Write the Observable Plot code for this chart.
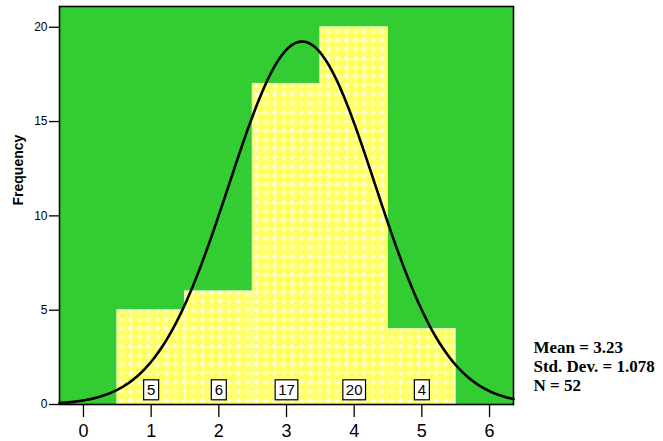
<!DOCTYPE html>
<html>
<head>
<meta charset="utf-8">
<script src="https://cdn.jsdelivr.net/npm/d3@7"></script>
<script src="https://cdn.jsdelivr.net/npm/@observablehq/plot@0.6"></script>
<style>
  html, body { margin: 0; padding: 0; background: #fff; }
  svg { display: block; }
</style>
</head>
<body>
<div id="chart"></div>
<script>
// Histogram bins (bin centers) and counts
const binCenters = [1, 2, 3, 4, 5];
const counts = [5, 6, 17, 20, 4];
const xTicks = [0, 1, 2, 3, 4, 5, 6];
const yTicks = [0, 5, 10, 15, 20];
// Summary statistics shown at right
const stats = { mean: 3.23, sd: 1.078, n: 52 };
const statLines = ["Mean = 3.23", "Std. Dev. = 1.078", "N = 52"];

const bars = binCenters.map((c, i) => ({ x1: c - 0.5, x2: c + 0.5, y: counts[i], c, label: String(counts[i]) }));

// Normal curve fitted from the stated mean / SD, scaled by N * bin width
const xDomain = [-0.354, 6.354];
const curve = d3.range(0, 201).map(i => {
  const x = xDomain[0] + (xDomain[1] - xDomain[0]) * i / 200;
  const z = (x - stats.mean) / stats.sd;
  return { x, y: stats.n * 1 * Math.exp(-0.5 * z * z) / (stats.sd * Math.sqrt(2 * Math.PI)) };
});

const defs = () => {
  const d = d3.create("svg:defs");
  const p = d.append("pattern").attr("id", "dots").attr("patternUnits", "userSpaceOnUse")
    .attr("width", 9).attr("height", 9);
  p.append("rect").attr("width", 9).attr("height", 9).attr("fill", "#ffff66");
  p.append("path").attr("d", "M1.5 4.5h6M4.5 1.5v6").attr("stroke", "#ffffe8").attr("stroke-width", 1.3);
  return d.node();
};

const statMarks = statLines.map((s, i) =>
  Plot.text([s], { frameAnchor: "bottom-right", dx: 20, dy: -52 + i * 19, textAnchor: "start", fontSize: 17, fontWeight: "bold", fontFamily: "'Liberation Serif', 'Times New Roman', serif", fill: "#000" })
);

const chart = Plot.plot({
  width: 663,
  height: 441,
  marginLeft: 59,
  marginRight: 150,
  marginTop: 6,
  marginBottom: 37,
  style: { fontFamily: "Arial, 'Liberation Sans', sans-serif", background: "#fff" },
  x: { domain: xDomain },
  y: { domain: [0, 21.1] },
  marks: [
    defs,
    Plot.frame({ fill: "#33cc33", stroke: "none" }),
    Plot.rectY(bars, { x1: "x1", x2: "x2", y: "y", fill: "url(#dots)", stroke: "#f4ffd0", strokeWidth: 0.8 }),
    Plot.line(curve, { x: "x", y: "y", stroke: "#000", strokeWidth: 2.6, curve: "linear" }),
    Plot.text(bars, { x: "c", y: () => 0, text: "label", dy: -14, fontSize: 15, fill: "#000", className: "counts" }),
    Plot.frame({ stroke: "#000", strokeWidth: 1.6 }),
    Plot.axisX({ ticks: xTicks, tickFormat: d => String(d), tickSize: 13, tickPadding: 7, fontSize: 18, stroke: "#000", strokeWidth: 1.3, label: null }),
    Plot.axisY({ ticks: yTicks, tickFormat: d => String(d), tickSize: 10, tickPadding: 2, fontSize: 12, stroke: "#000", strokeWidth: 1.3, label: null }),
    Plot.text(["Frequency"], { frameAnchor: "left", dx: -41, rotate: -90, fontSize: 14, fontWeight: "bold", fill: "#000" }),
    ...statMarks
  ]
});

document.getElementById("chart").append(chart);

// white boxes behind the count labels
d3.select(chart).selectAll("g.counts text").each(function () {
  const b = this.getBBox();
  const w = Math.max(15, b.width + 6);
  d3.select(this.parentNode).insert("rect", () => this)
    .attr("x", b.x + b.width / 2 - w / 2).attr("y", b.y + b.height / 2 - 10)
    .attr("width", w).attr("height", 20)
    .attr("fill", "#fff").attr("stroke", "#000").attr("stroke-width", 1.2)
    .attr("transform", this.getAttribute("transform"));
});
</script>
</body>
</html>
